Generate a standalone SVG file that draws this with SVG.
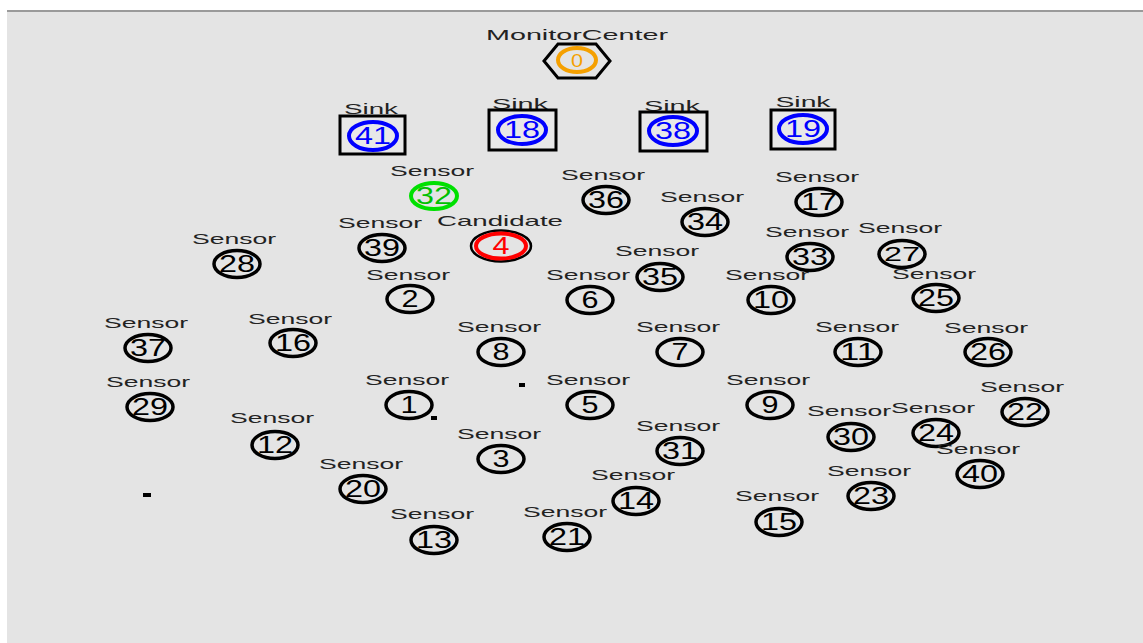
<svg xmlns="http://www.w3.org/2000/svg" width="1143" height="643" viewBox="0 0 1143 643">
<style>
.lbl{font-family:"Liberation Sans",Arial,sans-serif;font-size:15px;fill:#222;text-anchor:middle}
.num{font-family:"Liberation Sans",Arial,sans-serif;font-size:23px;fill:#000;text-anchor:middle}
.ring{fill:none;stroke:#000;stroke-width:3.5}
.sinkbox{fill:#e8e8e8;stroke:#000;stroke-width:3}
.sinkring{fill:none;stroke:#0000ff;stroke-width:4}
.blue{fill:#0000ff}
</style>
<rect x="0" y="0" width="1143" height="643" fill="#ffffff"/>
<rect x="7" y="11" width="1136" height="632" fill="#e4e4e4"/>
<line x1="7" y1="11" x2="1143" y2="11" stroke="#9a9a9a" stroke-width="2"/>

<g id="connectors">
<rect x="519" y="383" width="6" height="4" fill="#000"/>
<rect x="431" y="416" width="6" height="4" fill="#000"/>
<rect x="143" y="493" width="8" height="4" fill="#000"/>
</g>

<g id="node0">
<text class="lbl" x="577" y="40" textLength="182" lengthAdjust="spacingAndGlyphs">MonitorCenter</text>
<polygon points="544,61 558,44 596,44 610,61 596,78 558,78" fill="none" stroke="#000" stroke-width="3"/>
<ellipse cx="577" cy="60" rx="19" ry="12" fill="none" stroke="#f5a000" stroke-width="4"/>
<text class="num" x="577" y="67" textLength="12" lengthAdjust="spacingAndGlyphs" style="fill:#f5a000;font-size:18px">0</text>
</g>

<g id="node41">
<text class="lbl" x="371" y="114" textLength="54" lengthAdjust="spacingAndGlyphs">Sink</text>
<rect class="sinkbox" x="340" y="116" width="65" height="38"/>
<ellipse class="sinkring" cx="373" cy="136" rx="24" ry="14"/>
<text class="num blue" x="373" y="144" textLength="36" lengthAdjust="spacingAndGlyphs">41</text>
</g>
<g id="node18">
<text class="lbl" x="520" y="109" textLength="56" lengthAdjust="spacingAndGlyphs">Sink</text>
<rect class="sinkbox" x="489" y="110" width="67" height="40"/>
<ellipse class="sinkring" cx="522" cy="130" rx="24" ry="14"/>
<text class="num blue" x="522" y="138" textLength="36" lengthAdjust="spacingAndGlyphs">18</text>
</g>
<g id="node38">
<text class="lbl" x="672" y="111" textLength="56" lengthAdjust="spacingAndGlyphs">Sink</text>
<rect class="sinkbox" x="640" y="112" width="67" height="39"/>
<ellipse class="sinkring" cx="673" cy="131" rx="24" ry="14"/>
<text class="num blue" x="673" y="139" textLength="36" lengthAdjust="spacingAndGlyphs">38</text>
</g>
<g id="node19">
<text class="lbl" x="803" y="107" textLength="55" lengthAdjust="spacingAndGlyphs">Sink</text>
<rect class="sinkbox" x="771" y="110" width="64" height="39"/>
<ellipse class="sinkring" cx="803" cy="129" rx="24" ry="14"/>
<text class="num blue" x="803" y="137" textLength="36" lengthAdjust="spacingAndGlyphs">19</text>
</g>

<g id="node32">
<text class="lbl" x="432" y="176" textLength="84" lengthAdjust="spacingAndGlyphs">Sensor</text>
<ellipse cx="434" cy="196" rx="23" ry="13" fill="none" stroke="#00e000" stroke-width="4"/>
<text class="num" x="434" y="204" textLength="36" lengthAdjust="spacingAndGlyphs" style="fill:#00c000">32</text>
</g>
<g id="node4">
<text class="lbl" x="500" y="226" textLength="126" lengthAdjust="spacingAndGlyphs">Candidate</text>
<ellipse cx="501" cy="246" rx="30" ry="15.5" fill="none" stroke="#000" stroke-width="2.5"/>
<ellipse cx="501" cy="246" rx="25" ry="12.5" fill="none" stroke="#ff0000" stroke-width="4"/>
<text class="num" x="501" y="254" textLength="17" lengthAdjust="spacingAndGlyphs" style="fill:#ff0000">4</text>
</g>

<g id="node36"><text class="lbl" x="603" y="180" textLength="84" lengthAdjust="spacingAndGlyphs">Sensor</text><ellipse class="ring" cx="606" cy="200" rx="23" ry="13.5"/><text class="num" x="606" y="208" textLength="36" lengthAdjust="spacingAndGlyphs">36</text></g>
<g id="node34"><text class="lbl" x="702" y="202" textLength="84" lengthAdjust="spacingAndGlyphs">Sensor</text><ellipse class="ring" cx="705" cy="222" rx="23" ry="13.5"/><text class="num" x="705" y="230" textLength="36" lengthAdjust="spacingAndGlyphs">34</text></g>
<g id="node17"><text class="lbl" x="817" y="182" textLength="84" lengthAdjust="spacingAndGlyphs">Sensor</text><ellipse class="ring" cx="819" cy="202" rx="23" ry="13.5"/><text class="num" x="819" y="210" textLength="36" lengthAdjust="spacingAndGlyphs">17</text></g>
<g id="node39"><text class="lbl" x="380" y="228" textLength="84" lengthAdjust="spacingAndGlyphs">Sensor</text><ellipse class="ring" cx="382" cy="248" rx="23" ry="13.5"/><text class="num" x="382" y="256" textLength="36" lengthAdjust="spacingAndGlyphs">39</text></g>
<g id="node28"><text class="lbl" x="234" y="244" textLength="84" lengthAdjust="spacingAndGlyphs">Sensor</text><ellipse class="ring" cx="237" cy="264" rx="23" ry="13.5"/><text class="num" x="237" y="272" textLength="36" lengthAdjust="spacingAndGlyphs">28</text></g>
<g id="node33"><text class="lbl" x="807" y="237" textLength="84" lengthAdjust="spacingAndGlyphs">Sensor</text><ellipse class="ring" cx="810" cy="257" rx="23" ry="13.5"/><text class="num" x="810" y="265" textLength="36" lengthAdjust="spacingAndGlyphs">33</text></g>
<g id="node27"><text class="lbl" x="900" y="233" textLength="84" lengthAdjust="spacingAndGlyphs">Sensor</text><ellipse class="ring" cx="902" cy="254" rx="23" ry="13.5"/><text class="num" x="902" y="261" textLength="36" lengthAdjust="spacingAndGlyphs" style="font-size:21px">27</text></g>
<g id="node2"><text class="lbl" x="408" y="280" textLength="84" lengthAdjust="spacingAndGlyphs">Sensor</text><ellipse class="ring" cx="410" cy="299" rx="23" ry="13.5"/><text class="num" x="410" y="307" textLength="17" lengthAdjust="spacingAndGlyphs">2</text></g>
<g id="node6"><text class="lbl" x="588" y="280" textLength="84" lengthAdjust="spacingAndGlyphs">Sensor</text><ellipse class="ring" cx="590" cy="300" rx="23" ry="13.5"/><text class="num" x="590" y="308" textLength="17" lengthAdjust="spacingAndGlyphs">6</text></g>
<g id="node35"><text class="lbl" x="657" y="256" textLength="84" lengthAdjust="spacingAndGlyphs">Sensor</text><ellipse class="ring" cx="660" cy="277" rx="23" ry="13.5"/><text class="num" x="660" y="285" textLength="36" lengthAdjust="spacingAndGlyphs">35</text></g>
<g id="node10"><text class="lbl" x="767" y="280" textLength="84" lengthAdjust="spacingAndGlyphs">Sensor</text><ellipse class="ring" cx="771" cy="300" rx="23" ry="13.5"/><text class="num" x="771" y="308" textLength="36" lengthAdjust="spacingAndGlyphs">10</text></g>
<g id="node25"><text class="lbl" x="934" y="279" textLength="84" lengthAdjust="spacingAndGlyphs">Sensor</text><ellipse class="ring" cx="936" cy="298" rx="23" ry="13.5"/><text class="num" x="936" y="306" textLength="36" lengthAdjust="spacingAndGlyphs">25</text></g>
<g id="node37"><text class="lbl" x="146" y="328" textLength="84" lengthAdjust="spacingAndGlyphs">Sensor</text><ellipse class="ring" cx="148" cy="348" rx="23" ry="13.5"/><text class="num" x="148" y="356" textLength="36" lengthAdjust="spacingAndGlyphs">37</text></g>
<g id="node16"><text class="lbl" x="290" y="324" textLength="84" lengthAdjust="spacingAndGlyphs">Sensor</text><ellipse class="ring" cx="293" cy="343" rx="23" ry="13.5"/><text class="num" x="293" y="351" textLength="36" lengthAdjust="spacingAndGlyphs">16</text></g>
<g id="node8"><text class="lbl" x="499" y="332" textLength="84" lengthAdjust="spacingAndGlyphs">Sensor</text><ellipse class="ring" cx="501" cy="352" rx="23" ry="13.5"/><text class="num" x="501" y="360" textLength="17" lengthAdjust="spacingAndGlyphs">8</text></g>
<g id="node7"><text class="lbl" x="678" y="332" textLength="84" lengthAdjust="spacingAndGlyphs">Sensor</text><ellipse class="ring" cx="680" cy="352" rx="23" ry="13.5"/><text class="num" x="680" y="360" textLength="17" lengthAdjust="spacingAndGlyphs">7</text></g>
<g id="node11"><text class="lbl" x="857" y="332" textLength="84" lengthAdjust="spacingAndGlyphs">Sensor</text><ellipse class="ring" cx="858" cy="352" rx="23" ry="13.5"/><text class="num" x="858" y="360" textLength="36" lengthAdjust="spacingAndGlyphs">11</text></g>
<g id="node26"><text class="lbl" x="986" y="333" textLength="84" lengthAdjust="spacingAndGlyphs">Sensor</text><ellipse class="ring" cx="988" cy="352" rx="23" ry="13.5"/><text class="num" x="988" y="360" textLength="36" lengthAdjust="spacingAndGlyphs">26</text></g>
<g id="node29"><text class="lbl" x="148" y="387" textLength="84" lengthAdjust="spacingAndGlyphs">Sensor</text><ellipse class="ring" cx="150" cy="407" rx="23" ry="13.5"/><text class="num" x="150" y="415" textLength="36" lengthAdjust="spacingAndGlyphs">29</text></g>
<g id="node1"><text class="lbl" x="407" y="385" textLength="84" lengthAdjust="spacingAndGlyphs">Sensor</text><ellipse class="ring" cx="409" cy="405" rx="23" ry="13.5"/><text class="num" x="409" y="413" textLength="17" lengthAdjust="spacingAndGlyphs">1</text></g>
<g id="node5"><text class="lbl" x="588" y="385" textLength="84" lengthAdjust="spacingAndGlyphs">Sensor</text><ellipse class="ring" cx="590" cy="405" rx="23" ry="13.5"/><text class="num" x="590" y="413" textLength="17" lengthAdjust="spacingAndGlyphs">5</text></g>
<g id="node9"><text class="lbl" x="768" y="385" textLength="84" lengthAdjust="spacingAndGlyphs">Sensor</text><ellipse class="ring" cx="770" cy="405" rx="23" ry="13.5"/><text class="num" x="770" y="413" textLength="17" lengthAdjust="spacingAndGlyphs">9</text></g>
<g id="node22"><text class="lbl" x="1022" y="392" textLength="84" lengthAdjust="spacingAndGlyphs">Sensor</text><ellipse class="ring" cx="1025" cy="412" rx="23" ry="13.5"/><text class="num" x="1025" y="420" textLength="36" lengthAdjust="spacingAndGlyphs">22</text></g>
<g id="node12"><text class="lbl" x="272" y="423" textLength="84" lengthAdjust="spacingAndGlyphs">Sensor</text><ellipse class="ring" cx="275" cy="445" rx="23" ry="13.5"/><text class="num" x="275" y="453" textLength="36" lengthAdjust="spacingAndGlyphs">12</text></g>
<g id="node3"><text class="lbl" x="499" y="439" textLength="84" lengthAdjust="spacingAndGlyphs">Sensor</text><ellipse class="ring" cx="501" cy="459" rx="23" ry="13.5"/><text class="num" x="501" y="467" textLength="17" lengthAdjust="spacingAndGlyphs">3</text></g>
<g id="node31"><text class="lbl" x="678" y="431" textLength="84" lengthAdjust="spacingAndGlyphs">Sensor</text><ellipse class="ring" cx="680" cy="451" rx="23" ry="13.5"/><text class="num" x="680" y="459" textLength="36" lengthAdjust="spacingAndGlyphs">31</text></g>
<g id="node30"><text class="lbl" x="849" y="416" textLength="84" lengthAdjust="spacingAndGlyphs">Sensor</text><ellipse class="ring" cx="851" cy="437" rx="23" ry="13.5"/><text class="num" x="851" y="445" textLength="36" lengthAdjust="spacingAndGlyphs">30</text></g>
<g id="node24"><text class="lbl" x="933" y="413" textLength="84" lengthAdjust="spacingAndGlyphs">Sensor</text><ellipse class="ring" cx="936" cy="433" rx="23" ry="13.5"/><text class="num" x="936" y="441" textLength="36" lengthAdjust="spacingAndGlyphs">24</text></g>
<g id="node40"><text class="lbl" x="978" y="454" textLength="84" lengthAdjust="spacingAndGlyphs">Sensor</text><ellipse class="ring" cx="980" cy="474" rx="23" ry="13.5"/><text class="num" x="980" y="482" textLength="36" lengthAdjust="spacingAndGlyphs">40</text></g>
<g id="node20"><text class="lbl" x="361" y="469" textLength="84" lengthAdjust="spacingAndGlyphs">Sensor</text><ellipse class="ring" cx="363" cy="489" rx="23" ry="13.5"/><text class="num" x="363" y="497" textLength="36" lengthAdjust="spacingAndGlyphs">20</text></g>
<g id="node14"><text class="lbl" x="633" y="480" textLength="84" lengthAdjust="spacingAndGlyphs">Sensor</text><ellipse class="ring" cx="636" cy="501" rx="23" ry="13.5"/><text class="num" x="636" y="509" textLength="36" lengthAdjust="spacingAndGlyphs">14</text></g>
<g id="node23"><text class="lbl" x="869" y="476" textLength="84" lengthAdjust="spacingAndGlyphs">Sensor</text><ellipse class="ring" cx="871" cy="496" rx="23" ry="13.5"/><text class="num" x="871" y="504" textLength="36" lengthAdjust="spacingAndGlyphs">23</text></g>
<g id="node15"><text class="lbl" x="777" y="501" textLength="84" lengthAdjust="spacingAndGlyphs">Sensor</text><ellipse class="ring" cx="779" cy="522" rx="23" ry="13.5"/><text class="num" x="779" y="530" textLength="36" lengthAdjust="spacingAndGlyphs">15</text></g>
<g id="node13"><text class="lbl" x="432" y="519" textLength="84" lengthAdjust="spacingAndGlyphs">Sensor</text><ellipse class="ring" cx="434" cy="540" rx="23" ry="13.5"/><text class="num" x="434" y="548" textLength="36" lengthAdjust="spacingAndGlyphs">13</text></g>
<g id="node21"><text class="lbl" x="565" y="517" textLength="84" lengthAdjust="spacingAndGlyphs">Sensor</text><ellipse class="ring" cx="567" cy="537" rx="23" ry="13.5"/><text class="num" x="567" y="545" textLength="36" lengthAdjust="spacingAndGlyphs">21</text></g>
</svg>
